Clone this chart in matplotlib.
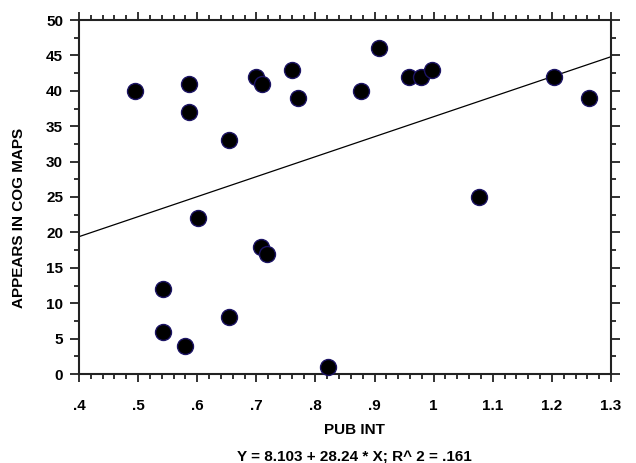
import numpy as np
import matplotlib
matplotlib.use('Agg')
from matplotlib import pyplot as plt
from matplotlib.ticker import MultipleLocator, FixedLocator

# public interest score vs. number of cognitive maps each place appears in
pub_int = [0.495, 0.586, 0.586, 0.654, 0.700, 0.709, 0.761, 0.771, 0.601,
           0.908, 0.877, 0.958, 0.978, 0.997, 1.203, 1.262, 1.077,
           0.708, 0.718, 0.542, 0.542, 0.580, 0.654, 0.822]
cog_maps = [40, 41, 37, 33, 42, 41, 43, 39, 22,
            46, 40, 42, 42, 43, 42, 39, 25,
            18, 17, 12, 6, 4, 8, 1]

# fitted line as reported
intercept = 8.103
slope = 28.24
r2 = .161

xticks = [.4, .5, .6, .7, .8, .9, 1.0, 1.1, 1.2, 1.3]
xticklabels = ['.4', '.5', '.6', '.7', '.8', '.9', '1', '1.1', '1.2', '1.3']
yticks = [0, 5, 10, 15, 20, 25, 30, 35, 40, 45, 50]

plt.rcParams['font.family'] = ['Liberation Sans', 'DejaVu Sans']
plt.rcParams['font.weight'] = 'bold'
fs = 11

fig = plt.figure(figsize=(6.36, 4.63), dpi=100)
ax = fig.add_axes([79/636, 1-374/463, 532/636, 354/463])

xl = np.array([.4, 1.3])
ax.plot(xl, intercept + slope*xl, color='black', linewidth=0.9, zorder=2)
ax.plot(pub_int, cog_maps, linestyle='none', marker='o', markersize=11.5,
        markerfacecolor='black', markeredgecolor='#1c1464', markeredgewidth=1.0,
        zorder=3, clip_on=False)

ax.set_xlim(.4, 1.3)
ax.set_ylim(0, 50)
ax.xaxis.set_major_locator(FixedLocator(xticks))
ax.set_xticklabels(xticklabels)
ax.xaxis.set_minor_locator(MultipleLocator(.02))
ax.yaxis.set_major_locator(FixedLocator(yticks))
ax.yaxis.set_minor_locator(MultipleLocator(2.5))

for s in ax.spines.values():
    s.set_linewidth(1.5)
    s.set_color('#222222')

ax.tick_params(which='both', direction='out', top=True, right=True,
               labeltop=False, labelright=False, color='#222222', width=1.3)
ax.tick_params(axis='x', which='major', length=6, pad=12, labelsize=fs)
ax.tick_params(axis='x', which='minor', length=3.5)
ax.tick_params(axis='y', which='major', length=6.5, pad=5, labelsize=fs)
ax.tick_params(axis='y', which='minor', length=3.5)

fig.text(354/636, 1-430/463, 'PUB INT', ha='center', va='center',
         fontsize=fs, fontweight='bold')
fig.text(354/636, 1-457/463,
         'Y = %.3f + %.2f * X; R^ 2 = %s' % (intercept, slope, ('%.3f' % r2).lstrip('0')),
         ha='center', va='center', fontsize=fs, fontweight='bold')
fig.text(19/636, 1-218/463, 'APPEARS IN COG MAPS', rotation=90,
         ha='center', va='center', fontsize=fs, fontweight='bold')

fig.savefig('out.png', dpi=100)
